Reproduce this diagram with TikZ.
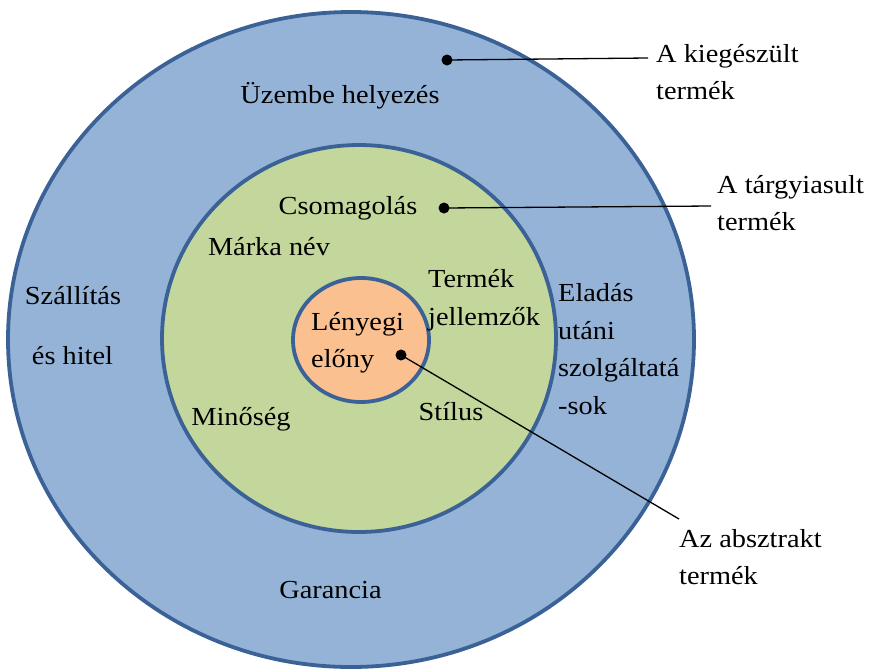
\documentclass[tikz,border=0pt]{standalone}
\usepackage{fontspec}
\setmainfont{Liberation Serif}[FakeStretch=1.09]
\definecolor{outerblue}{HTML}{95B3D7}
\definecolor{ringline}{HTML}{3B6296}
\definecolor{midgreen}{HTML}{C3D69B}
\definecolor{coreorange}{HTML}{FAC090}
\begin{document}
\begin{tikzpicture}[x=1pt,y=-1pt,
  ring/.style={draw=ringline, line width=3.8pt},
  lbl/.style={font=\fontsize{26}{37.5}\selectfont, inner sep=0pt, text height=18pt, text depth=6pt},
  mlbl/.style={font=\fontsize{26}{37.5}\selectfont, inner sep=0pt, align=left, anchor=west},
  dot/.style={circle, fill=black, inner sep=0pt, minimum size=11pt},
  lead/.style={draw=black, line width=1.3pt}]
\fill[white] (0,0) rectangle (870,670);
\useasboundingbox (0,0) rectangle (870,670);
% rings
\draw[ring, fill=outerblue] (351,339.5) ellipse [x radius=343, y radius=327.5];
\draw[ring, fill=midgreen] (359,338.5) ellipse [x radius=197, y radius=193.5];
\draw[ring, fill=coreorange] (361,340) ellipse [x radius=68, y radius=62];
% labels inside
\node[lbl] (uzembe) at (340,97) {Üzembe helyezés};
\node[lbl] (csomag) at (348,208) {Csomagolás};
\node[lbl] (marka) at (269,249) {Márka név};
\node[mlbl] (termek) at (428,300) {Termék\\jellemzők};
\node[mlbl] (lenyegi) at (311,343) {Lényegi\\előny};
\node[mlbl] (eladas) at (558,349) {Eladás\\utáni\\szolgáltatá\\-sok};
\node[lbl] (szall) at (73,298) {Szállítás};
\node[lbl] (hitel) at (72.5,358) {és hitel};
\node[lbl] (minoseg) at (241,419) {Minőség};
\node[lbl] (stilus) at (451,414) {Stílus};
\node[lbl] (garancia) at (330.5,592) {Garancia};
% outside labels
\node[mlbl] (kieg) at (656,72) {A kiegészült\\termék};
\node[mlbl] (targy) at (717,203) {A tárgyiasult\\termék};
\node[mlbl] (abszt) at (679,557) {Az absztrakt\\termék};
% dots and leaders
\node[dot] (d1) at (447,60) {};
\node[dot] (d2) at (444,208) {};
\node[dot] (d3) at (401,355) {};
\coordinate (e1) at (648,58);
\coordinate (e2) at (711,206);
\coordinate (e3) at (679,519);
\draw[lead] (d1.center) -- (e1);
\draw[lead] (d2.center) -- (e2);
\draw[lead] (d3.center) -- (e3);
\end{tikzpicture}
\end{document}
